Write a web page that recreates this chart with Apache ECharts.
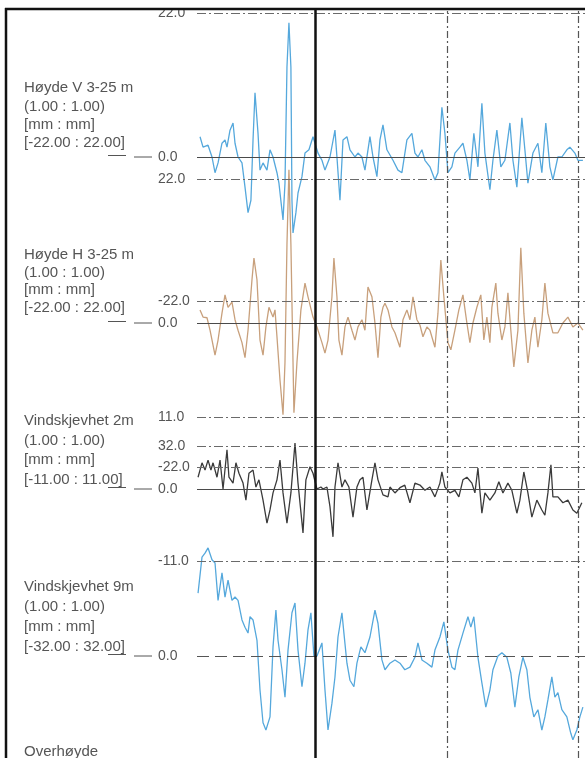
<!DOCTYPE html>
<html>
<head>
<meta charset="utf-8">
<title>Sporgeometri</title>
<script src="https://cdn.jsdelivr.net/npm/echarts@6/dist/echarts.min.js"></script>
<style>
html, body { margin: 0; padding: 0; background: #fff; }
#main { width: 585px; height: 758px; }
</style>
</head>
<body>
<div id="main"></div>
<script>
// Sporgeometri - fire kanaler langs samme strekning
var chart = echarts.init(document.getElementById('main'));

// kanaler (tekstblokk til venstre)
var channelNames = ['Høyde V 3-25 m', 'Høyde H 3-25 m', 'Vindskjevhet 2m', 'Vindskjevhet 9m'];
var channelRanges = [22, 22, 11, 32]; // [-x : x] mm
var visibleMin = [-22, -22, -11, -14]; // nederste synlige verdi i hver kanal
var channelColors = ['#55a8dc', '#c8a07c', '#3a3a3a', '#55a8dc'];

// vertikale markeringer (m)
var kmMarks = [90, 190, 290];

// [avstand m, verdi mm]
var hoydeV = [[2.3,3.1],[4.6,1.5],[8.4,1.8],[11.4,0],[13.7,-2.4],[16,-0.9],[19,2.1],[21.3,2.6],[22.8,1.5],[25.1,4.1],[27.4,5.2],[28.9,2.1],[31.2,0],[34.2,-0.9],[36.5,-4.6],[38.8,-8.5],[41,-6.6],[42.6,2.6],[44.1,9.8],[45.6,10],[46.4,3.6],[47.9,-2],[50.2,-0.9],[53.2,-2],[55.5,1.1],[57.8,0],[60.8,-2.4],[62.3,-4],[65.4,-9.6],[66.9,-4],[68.4,13.7],[69.9,20.5],[71.4,13.7],[72.2,-6.6],[73,-11.6],[75.2,-8.5],[76.8,-5.5],[79.8,-3],[82.1,0.6],[85.1,1.1],[88.2,3.1],[92,0.6],[95,-0.5],[97.3,-2],[101.1,0],[104.9,4.1],[106.4,0],[108.7,-6.6],[111,2.6],[114,3.1],[116.3,1.1],[120.1,0],[122.4,0.6],[125.4,0],[127.7,-2],[131.5,3.1],[133.8,0],[136.8,-3],[139.1,2.6],[141.4,4.9],[144.4,1.1],[149,-0.5],[152.8,-2],[155.8,-2.4],[159.6,2.6],[163.4,3.6],[165.7,0.6],[168,0],[171,1.1],[173.3,-0.5],[177.1,-1.5],[180.9,-3.5],[183.2,-2.4],[186.2,7.6],[188.5,3.6],[190.8,-2.4],[193.8,-1.5],[196.1,0.6],[199.9,1.5],[202.2,2.1],[205.2,-0.5],[207.5,-3.5],[210.5,3.6],[213.6,-1.5],[216.6,8.2],[218.9,0.6],[222.7,-5],[225,-0.5],[228,4.1],[231,-1.5],[234.1,-0.5],[237.9,5.2],[240.2,-0.5],[243.2,-4.6],[247,6],[249.3,1.1],[251.6,-4],[255.4,0.6],[259.2,2.1],[262.2,-2.4],[265.2,5.2],[268.3,-1.5],[270.6,-3.5],[274.4,0],[277.4,0],[281.2,1.1],[283.5,1.5],[287.3,0.6],[289.6,-0.5],[293.4,-0.5]];

var hoydeH = [[2.3,2],[4.6,0.9],[7.6,0.8],[9.9,-1.1],[13.7,-4.9],[16,-2.6],[19,1.5],[21.3,4.3],[23.6,2.4],[26.6,3.2],[28.9,0.5],[31.2,-1.1],[34.2,-3],[36.5,-5.3],[38.8,-1.1],[41.8,6.6],[43.3,9.9],[45.6,6.6],[47.9,-2.6],[50.2,-4.9],[52.4,-0.6],[54.7,2.4],[57.8,0.9],[59.3,2],[60.8,-2.1],[63.1,-8.7],[65.4,-14],[66.9,-6],[68.4,12],[69.9,23.4],[71.4,12],[73.7,-13.7],[76,-6],[79,2],[82.1,6.1],[84.4,4],[88.2,0.9],[91.2,-0.6],[95,-3],[97.3,-4.6],[99.6,-2.6],[102.6,4],[104.1,9.9],[106.4,4],[107.9,-2.6],[110.2,-4.9],[112.5,-0.6],[114.8,0.9],[117.8,-1.1],[120.1,-2.6],[122.4,-0.6],[125.4,0.5],[127.7,-1.1],[130,5.5],[133,4],[135.3,0],[137.6,-5.3],[139.8,0.9],[141.4,2.4],[142.9,3],[145.2,2],[148.2,-0.6],[150.5,-1.5],[154.3,-3.7],[156.6,0.5],[159.6,2],[161.9,0.5],[164.2,4],[167.2,0.5],[169.5,-0.3],[171.8,-2.1],[174.8,-0.6],[177.1,-1.1],[180.9,-3.7],[183.2,1.5],[185.4,9.6],[187.7,4],[190.8,-3],[193,-4.1],[196.1,-1.1],[199.1,2],[202.2,4.3],[205.2,0],[207.5,-3],[209.8,0],[212.8,2.4],[215.8,4.3],[218.1,-2.6],[220.4,0.9],[222.7,-3],[224.2,2.4],[227.2,6.1],[228.8,1.5],[231.8,-2.6],[234.1,-0.6],[236.4,4.6],[238.6,-1.1],[240.9,-6.7],[244,-1.1],[246.2,11.5],[248.5,1.5],[251.6,-6.1],[254.6,-1.1],[256.9,0.9],[259.2,-3.7],[262.2,0.5],[264.5,6.1],[266.8,1.5],[270.6,-1.5],[274.4,-1.5],[278.2,0],[282,0.9],[285.8,-0.6],[289.6,0],[293.4,-1.1]];

var vind2m = [[0.8,1.8],[3.8,4],[6.1,2.9],[8.4,4.4],[10.6,2.9],[12.2,4],[15.2,1.8],[17.5,4.4],[19.8,0],[22.8,6],[24.3,1.8],[27.4,0.9],[29.6,4],[31.9,2.4],[35,0.9],[37.2,-1.7],[39.5,2.4],[42.6,2.9],[44.8,0.3],[47.1,1.4],[50.2,-1.7],[53.2,-5.2],[55.5,-3.2],[57.8,-0.6],[60.8,1.4],[63.1,4.4],[65.4,-0.6],[68.4,-5.2],[71.4,-0.6],[74.5,7],[76.8,0.9],[80.6,-6.7],[82.8,1.4],[85.9,3.4],[88.2,2.4],[91.2,0],[94.2,0.3],[95.8,0],[98.8,0.3],[101.1,-2.7],[103.4,-7.3],[104.9,0.3],[107.2,4],[110.2,0.3],[112.5,1.4],[115.5,0.3],[118.6,-4.3],[121.6,0.3],[123.9,1.4],[126.2,1.8],[129.2,-3.2],[133,1.4],[135.3,4],[137.6,1.4],[141.4,-0.9],[145.2,-1.2],[146.7,0.3],[150.5,-0.6],[154.3,0.2],[158,0.6],[161.9,-2.1],[165.7,0.9],[169.5,0.6],[173.3,-0.2],[177.1,0.3],[180.9,-1.2],[184.7,0.9],[186.2,2.6],[188.5,0.3],[192.3,-0.6],[196.1,-0.2],[199.1,-1.2],[202.2,1.4],[205.2,1.8],[209,0.9],[211.3,-0.6],[213.6,3.2],[216.6,-3.7],[218.9,-0.6],[222.7,-1.7],[226.5,-0.6],[229.5,1.1],[232.6,-0.6],[236.4,0.9],[239.4,-0.2],[243.2,-3.7],[245.5,-1.7],[248.5,2.6],[251.6,-0.6],[254.6,-4.3],[258.4,-1.7],[262.2,-3.2],[264.5,-4],[266.8,-0.6],[269.1,3.7],[270.6,-1.2],[274.4,-1.2],[278.2,-2.1],[282,-1.7],[285.8,-3.2],[288.8,-3.7],[292.6,-2.1]];

var vind9m = [[0.8,9.6],[3.8,15.1],[6.1,15.7],[8.4,16.5],[11.4,14.7],[13.7,14.2],[16,8.5],[19,12.7],[21.3,9],[23.6,11.6],[26.6,8.5],[28.9,9],[31.2,8.5],[34.2,5.5],[36.5,4.4],[38.8,3.5],[40.3,6],[42.6,5.5],[45.6,2.4],[47.9,-5.2],[50.2,-10.2],[52.4,-11.3],[55.5,-9.3],[57.8,1.4],[60,7],[61.6,2.4],[64.6,-2.1],[66.9,-6.3],[69.2,0.9],[72.2,6.6],[74.5,8.1],[76.8,0.9],[79.8,-4.7],[82.1,-1.1],[84.4,4],[86.6,6.6],[88.9,0],[91.2,0],[95,2],[97.3,-5.2],[99.6,-11.3],[102.6,-7.2],[104.9,-3.2],[107.2,2.9],[110.2,6.6],[111.7,3.5],[114,-1.1],[116.3,-3.7],[119.3,-4.7],[121.6,-1.1],[124.6,1.4],[127.7,0.5],[131.5,2.9],[135.3,7],[137.6,5],[140.6,-0.6],[142.9,-2.1],[146.7,-1.1],[150.5,-0.6],[154.3,-1.1],[158,-2.1],[161.9,-1.7],[165.7,-0.2],[168,2],[171,-0.6],[174.8,-1.1],[178.6,-1.7],[180.9,0.9],[184.7,2.9],[187.7,5.2],[190.8,0.9],[193.8,-1.7],[196.1,-2.1],[198.4,0.9],[202.2,3.5],[206,6],[208.2,4.4],[210.5,6],[213.6,-0.2],[216.6,-4.1],[219.6,-7.8],[222.7,-5.2],[225,-2.1],[228.8,0],[231.8,0.5],[235.6,-0.2],[238.6,-2.6],[241.7,-7.8],[244.7,-3.2],[247.8,-0.2],[250.8,-2.1],[253.1,-6.3],[256.1,-9.3],[259.2,-8.2],[262.2,-11.3],[264.5,-9.3],[266.8,-6.7],[269.8,-3.2],[272.1,-6.3],[274.4,-5.6],[277.4,-8.2],[281.2,-9.3],[284.2,-11.8],[285.8,-12.8],[288.8,-11.3],[291.1,-9.3],[293.4,-7.8]];

var traces = [hoydeV, hoydeH, vind2m, vind9m];

// layout
var mmPx = 6.55;                   // piksler per mm (alle kanaler)
var zeroY = [157, 323, 489, 656];  // nullinje for hver kanal
var plotLeft = 197;
var xMax = 295;
var textTop = [79, 246, 411, 577];
var textLineH = [18.3, 17.7, 19.7, 20];
var font = 'Liberation Sans, Arial, sans-serif';

var dashDot = { color: '#6a6a6a', width: 1, type: [9, 3, 2, 3] };
var zeroLine = { color: '#4a4a4a', width: 1, type: 'solid' };
var longDash = { color: '#555', width: 1, type: [12, 6] };

var grids = [], xAxes = [], yAxes = [], series = [], titles = [], graphics = [];

channelRanges.forEach(function (r, i) {
    var lo = visibleMin[i];
    grids.push({ left: plotLeft, right: 0, top: zeroY[i] - r * mmPx, height: (r - lo) * mmPx });
    xAxes.push({ type: 'value', gridIndex: i, min: 0, max: xMax, show: false });
    yAxes.push({
        type: 'value', gridIndex: i, min: lo, max: r, interval: lo === -r ? r : 2,
        axisLine: { show: false }, axisTick: { show: false }, splitLine: { show: false },
        axisLabel: {
            align: 'left', margin: 39, color: '#555', fontSize: 14, fontFamily: font,
            formatter: function (v) {
                return (v === r || v === 0 || v === -r) ? v.toFixed(1) : '';
            }
        }
    });
    var refLines = [
        { yAxis: r, lineStyle: dashDot },
        { yAxis: 0, lineStyle: i === 3 ? longDash : zeroLine }
    ];
    if (lo === -r) refLines.push({ yAxis: -r, lineStyle: dashDot });
    series.push({
        type: 'line', xAxisIndex: i, yAxisIndex: i,
        data: traces[i], showSymbol: false, clip: false,
        lineStyle: { color: channelColors[i], width: 1.3 },
        markLine: { silent: true, symbol: ['none', 'none'], label: { show: false }, data: refLines }
    });
    titles.push({
        text: [channelNames[i], '(1.00 : 1.00)', '[mm : mm]',
            '[' + (-r).toFixed(2) + ' : ' + r.toFixed(2) + ']'].join('\n'),
        left: 24, top: textTop[i], padding: 0,
        textStyle: { fontSize: 15, fontWeight: 'normal', color: '#555', fontFamily: font, lineHeight: textLineH[i] }
    });
    // små streker ved nullnivå
    graphics.push({ type: 'line', shape: { x1: 108, y1: zeroY[i] - 1.5, x2: 126, y2: zeroY[i] - 1.5 }, style: { stroke: '#555', lineWidth: 1 } });
    graphics.push({ type: 'line', shape: { x1: 134, y1: zeroY[i], x2: 152, y2: zeroY[i] }, style: { stroke: '#555', lineWidth: 1 } });
});

titles.push({
    text: 'Overhøyde', left: 24, top: 743, padding: 0,
    textStyle: { fontSize: 15, fontWeight: 'normal', color: '#555', fontFamily: font, lineHeight: 18 }
});

// overliggende grid for vertikale linjer
grids.push({ left: plotLeft, right: 0, top: 9, bottom: 0 });
xAxes.push({ type: 'value', gridIndex: 4, min: 0, max: xMax, show: false });
yAxes.push({ type: 'value', gridIndex: 4, min: 0, max: 1, show: false });
series.push({
    type: 'line', xAxisIndex: 4, yAxisIndex: 4, data: [[0, 0]], symbol: 'none', z: 10,
    lineStyle: { opacity: 0 },
    markLine: {
        silent: true, symbol: ['none', 'none'], label: { show: false },
        data: kmMarks.map(function (m, k) {
            return {
                xAxis: m,
                lineStyle: k === 0 ? { color: '#111', width: 2.5, type: 'solid' }
                    : { color: '#555', width: 1.2, type: [7, 3, 2, 3] }
            };
        })
    }
});

// ramme
graphics.push({ type: 'rect', shape: { x: 0, y: 0, width: 585, height: 8 }, style: { fill: '#fff' }, z: 100 });
graphics.push({ type: 'line', shape: { x1: 5, y1: 9, x2: 585, y2: 9 }, style: { stroke: '#111', lineWidth: 2.5 }, z: 101 });
graphics.push({ type: 'line', shape: { x1: 6, y1: 8, x2: 6, y2: 758 }, style: { stroke: '#111', lineWidth: 2.5 }, z: 101 });

chart.setOption({
    animation: false,
    backgroundColor: '#fff',
    title: titles,
    grid: grids,
    xAxis: xAxes,
    yAxis: yAxes,
    series: series,
    graphic: graphics
});
</script>
</body>
</html>
